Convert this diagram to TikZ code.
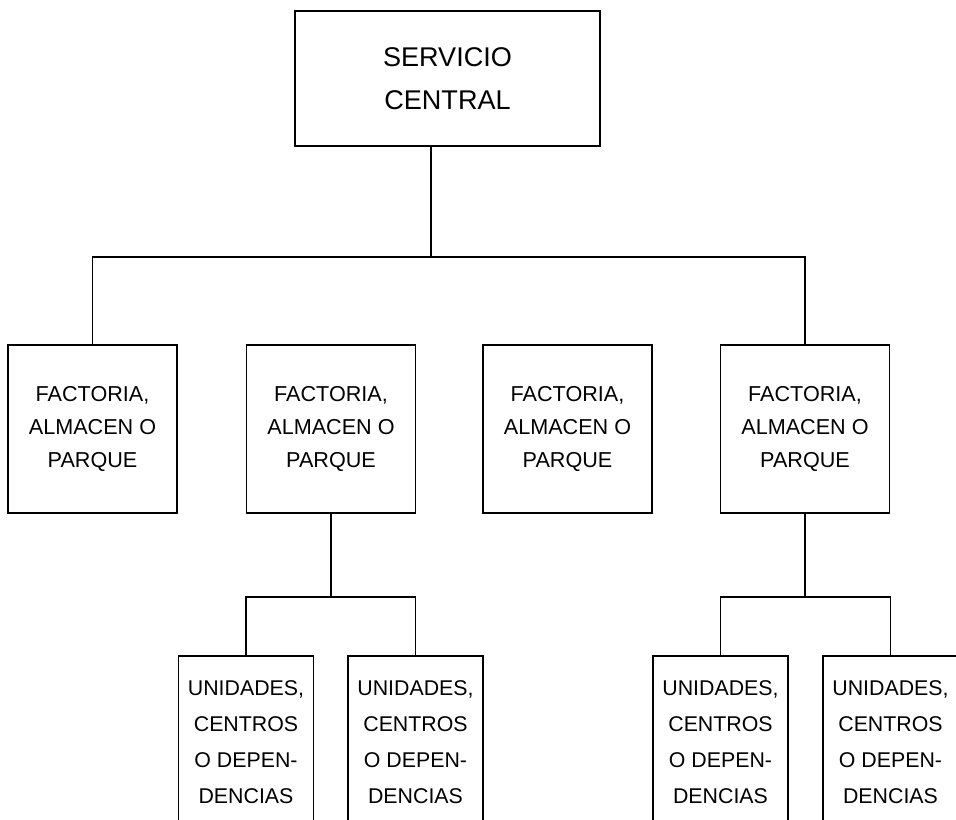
\documentclass[tikz,border=0pt]{standalone}
\usepackage{fontspec}
\setmainfont{Liberation Sans}
\begin{document}
\begin{tikzpicture}
    [
    x=0.75pt, y=-0.75pt,
    line width=0.85pt,
    box/.style={rectangle,draw,inner sep=0pt,align=center},
    head/.style={box,minimum width=305*0.75pt,minimum height=135*0.75pt,font=\fontsize{20.3}{32}\selectfont},
    branch/.style={box,minimum width=169*0.75pt,minimum height=168*0.75pt,font=\fontsize{16.2}{24.75}\selectfont},
    unit/.style={box,minimum width=135*0.75pt,minimum height=172*0.75pt,font=\fontsize{16}{27}\selectfont}
    ]
    \clip (0,0) rectangle (956,820);
    \node (srv) at (447.5,78.5) [head] {SERVICIO\\CENTRAL};
    \node (fac1) at (92.5,429) [branch] {FACTORIA,\\ALMACEN O\\PARQUE};
    \node (fac2) at (331,429) [branch] {FACTORIA,\\ALMACEN O\\PARQUE};
    \node (fac3) at (567.5,429) [branch] {FACTORIA,\\ALMACEN O\\PARQUE};
    \node (fac4) at (805,429) [branch] {FACTORIA,\\ALMACEN O\\PARQUE};
    \node (uni1) at (246,742) [unit] {UNIDADES,\\CENTROS\\O DEPEN-\\DENCIAS};
    \node (uni2) at (415.5,742) [unit] {UNIDADES,\\CENTROS\\O DEPEN-\\DENCIAS};
    \node (uni3) at (720.5,742) [unit] {UNIDADES,\\CENTROS\\O DEPEN-\\DENCIAS};
    \node (uni4) at (890.5,742) [unit] {UNIDADES,\\CENTROS\\O DEPEN-\\DENCIAS};
    \coordinate (bus) at (431,257);
    \coordinate (bus2) at (331,597);
    \coordinate (bus4) at (805,597);
    \draw (srv.south -| bus) to (bus);
    \draw (fac1.north) |- (bus) -| (fac4.north);
    \draw (fac2.south) to (bus2);
    \draw (uni1.north) |- (bus2) -| (uni2.north);
    \draw (fac4.south) to (bus4);
    \draw (uni3.north) |- (bus4) -| (uni4.north);
  \end{tikzpicture}
\end{document}
